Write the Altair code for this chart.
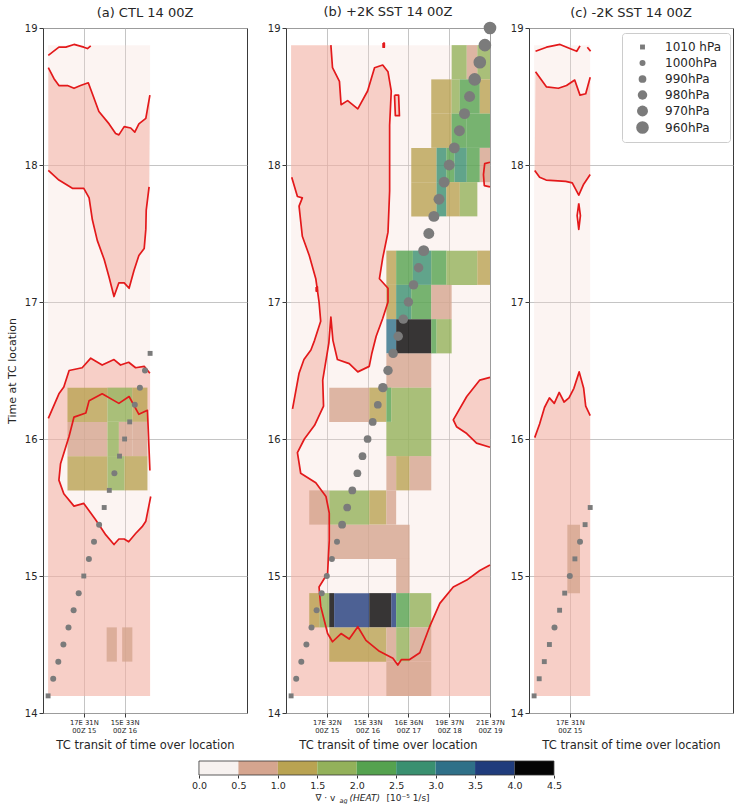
import altair as alt
import pandas as pd

FONT = "DejaVu Sans"
TEXT_COLOR = "#262626"
LIGHT_FILL = "#f6d9d3"
PINK_FILL = "#f2a293"
CONTOUR_RED = "#e3191b"
TRACK_GREY = "#7b7b7b"

# ---- binned colour scale of the ageostrophic divergence (1e-5 1/s) ----
DIV_EDGES = [0.0, 0.5, 1.0, 1.5, 2.0, 2.5, 3.0, 3.5, 4.0, 4.5]
DIV_COLORS = ["#f7f2f0", "#d5a58f", "#b9a352", "#93b15a", "#55a24f",
              "#3a9070", "#2f7088", "#203c7c", "#050505"]
DIV_SCALE = alt.Scale(type="threshold", domain=DIV_EDGES[1:-1], range=DIV_COLORS)

# ---- TC central pressure categories ----
PRESSURE_LEVELS = [1010, 1000, 990, 980, 970, 960]
PRESSURE_LABELS = ["1010 hPa", "1000hPa", "990hPa", "980hPa", "970hPa", "960hPa"]
PRESSURE_SHAPES = ["square", "circle", "circle", "circle", "circle", "circle"]
PRESSURE_SIZES = [24, 36, 60, 90, 120, 160]

Y_TICKS = [14, 15, 16, 17, 18, 19]

# ---- TC track (3-hourly) ----
TRACK_A_TIME = [14.125, 14.25, 14.375, 14.5, 14.625, 14.75, 14.875, 15.0, 15.125, 15.25, 15.375,
                15.5, 15.625, 15.75, 15.875, 16.0, 16.125, 16.25, 16.375, 16.5, 16.625]
TRACK_A_PRES = [1010, 1000, 1000, 1000, 1000, 1000, 1000, 1010, 1000, 1000, 1000,
                1010, 1010, 1000, 1010, 1010, 1010, 1000, 1000, 1000, 1010]

TRACK_B_TIME = [14.125, 14.25, 14.375, 14.5, 14.625, 14.75, 14.875, 15.0, 15.125, 15.25,
                15.375, 15.5, 15.625, 15.75, 15.875, 16.0, 16.125, 16.25, 16.375, 16.5,
                16.625, 16.75, 16.875, 17.0, 17.125, 17.25, 17.375, 17.5, 17.625, 17.75,
                17.875, 18.0, 18.125, 18.25, 18.375, 18.5, 18.625, 18.75, 18.875, 19.0]
TRACK_B_PRES = [1010, 1000, 1000, 1000, 1000, 1000, 1000, 1000, 1000, 1000,
                990, 990, 990, 990, 990, 990, 990, 990, 980, 980,
                980, 980, 980, 980, 980, 980, 970, 970, 970, 970,
                970, 970, 970, 970, 970, 970, 960, 960, 960, 960]

TRACK_C_TIME = [14.125, 14.25, 14.375, 14.5, 14.625, 14.75, 14.875, 15.0, 15.125, 15.25, 15.375, 15.5]
TRACK_C_PRES = [1010, 1010, 1010, 1010, 1000, 1010, 1010, 1000, 1010, 1000, 1010, 1010]

# ---- x tick labels: position / time of TC transit ----
XTICKS_A = [15, 16]
XLABELS_A = [("17E 31N", "00Z 15"), ("15E 33N", "00Z 16")]
XTICKS_B = [15, 16, 17, 18, 19]
XLABELS_B = [("17E 32N", "00Z 15"), ("15E 33N", "00Z 16"), ("16E 36N", "00Z 17"),
             ("19E 37N", "00Z 18"), ("21E 37N", "00Z 19")]
XTICKS_C = [15]
XLABELS_C = [("17E 31N", "00Z 15")]

# ---- data extents (x0, x1, y0, y1) ----
EXTENT_A = (14.125, 16.625, 14.125, 18.875)
EXTENT_B = (14.125, 19.0, 14.125, 18.875)
EXTENT_C = (14.125, 15.5, 14.125, 18.875)

# ---- contour lines, panel (a) ----
A_TOP = [(14.13, 18.80), (14.39, 18.86), (14.56, 18.86), (14.76, 18.88), (15.0, 18.86),
         (15.09, 18.85), (15.17, 18.87)]
A_UPPER = [(14.13, 18.71), (14.27, 18.63), (14.39, 18.58), (14.6, 18.58), (14.76, 18.56),
           (14.92, 18.58), (15.11, 18.60), (15.21, 18.52), (15.37, 18.39), (15.62, 18.30),
           (15.78, 18.23), (15.86, 18.22), (15.99, 18.28), (16.15, 18.27), (16.25, 18.24),
           (16.35, 18.30), (16.52, 18.34), (16.62, 18.51)]
A_V = [(14.13, 17.96), (14.39, 17.89), (14.72, 17.83), (15.0, 17.83), (15.13, 17.76),
       (15.21, 17.6), (15.33, 17.45), (15.5, 17.31), (15.62, 17.18), (15.74, 17.04),
       (15.86, 17.14), (15.99, 17.14), (16.11, 17.1), (16.23, 17.23), (16.35, 17.34),
       (16.48, 17.39), (16.52, 17.53), (16.53, 17.67), (16.6, 17.84)]
A_MID = [(14.13, 16.15), (14.39, 16.33), (14.51, 16.38), (14.64, 16.50), (14.96, 16.52),
         (15.17, 16.59), (15.45, 16.54), (15.74, 16.58), (15.9, 16.54), (16.1, 16.56),
         (16.27, 16.52), (16.48, 16.53), (16.62, 16.48)]
A_HOLE = [(16.62, 15.77), (16.56, 16.21), (16.35, 16.18), (16.11, 16.31), (15.86, 16.26),
          (15.45, 16.33), (15.13, 16.28), (15.05, 16.19), (14.76, 16.16), (14.64, 16.02),
          (14.43, 15.82), (14.39, 15.70), (14.51, 15.60), (14.76, 15.51), (15.0, 15.53),
          (15.29, 15.41), (15.54, 15.30), (15.74, 15.23), (15.86, 15.27), (15.99, 15.27),
          (16.1, 15.25), (16.27, 15.31), (16.43, 15.36), (16.52, 15.40), (16.64, 15.58)]

# ---- contour lines, panel (b) ----
B_MAIN = [(15.10, 18.875), (15.14, 18.71), (15.31, 18.61), (15.35, 18.44), (15.51, 18.47),
          (15.76, 18.41), (16.0, 18.54), (16.17, 18.71), (16.37, 18.73), (16.5, 18.68),
          (16.58, 18.54), (16.54, 18.29), (16.54, 17.81), (16.5, 17.51), (16.37, 17.32),
          (16.29, 17.17), (16.5, 17.1), (16.5, 17.0), (16.37, 16.88), (16.21, 16.75),
          (16.1, 16.62), (16.04, 16.53), (15.76, 16.49), (15.55, 16.55), (15.26, 16.58),
          (15.15, 16.72), (15.1, 16.89), (15.05, 16.7), (14.9, 16.43), (14.92, 16.24),
          (14.7, 16.1), (14.45, 16.0), (14.28, 15.9), (14.36, 15.75), (14.73, 15.68),
          (14.98, 15.58), (15.06, 15.46), (15.06, 15.26), (15.02, 15.02), (14.81, 14.92),
          (14.85, 14.78), (15.02, 14.58), (15.14, 14.52), (15.35, 14.58), (15.55, 14.54),
          (15.76, 14.63), (15.96, 14.53), (16.29, 14.45), (16.62, 14.4), (16.74, 14.35),
          (16.83, 14.39), (17.03, 14.39), (17.28, 14.44), (17.52, 14.63), (17.77, 14.8),
          (18.1, 14.92), (18.43, 14.97), (18.75, 15.04), (19.0, 15.08)]
B_BAY = [(14.14, 17.91), (14.28, 17.77), (14.4, 17.76), (14.32, 17.7), (14.4, 17.48),
         (14.57, 17.34), (14.73, 17.17), (14.81, 17.0), (14.85, 16.86), (14.7, 16.72),
         (14.61, 16.65), (14.44, 16.58), (14.32, 16.48), (14.16, 16.22)]
B_EAST = [(19.0, 16.45), (18.75, 16.43), (18.43, 16.31), (18.1, 16.14), (18.18, 16.09),
          (18.43, 16.04), (18.67, 15.97), (19.0, 15.94)]
B_LOOP_N = [(16.66, 18.51), (16.76, 18.51), (16.78, 18.36), (16.68, 18.36), (16.66, 18.51)]
B_LOOP_E = [(19.0, 18.02), (18.87, 18.01), (18.84, 17.93), (18.86, 17.85), (19.0, 17.84)]
B_DOT_W = [(14.74, 17.11), (14.77, 17.11), (14.77, 17.08), (14.74, 17.08), (14.74, 17.11)]
B_DOT_N = [(16.38, 18.89), (16.41, 18.89), (16.41, 18.86), (16.38, 18.86), (16.38, 18.89)]

# ---- contour lines, panel (c) ----
C_TOP_1 = [(14.16, 18.83), (14.43, 18.86), (14.76, 18.88), (15.0, 18.85), (15.17, 18.83), (15.25, 18.87)]
C_TOP_2 = [(15.43, 18.86), (15.51, 18.83)]
C_UPPER = [(14.16, 18.68), (14.43, 18.57), (14.72, 18.56), (14.92, 18.58), (15.12, 18.62),
           (15.25, 18.51), (15.39, 18.52), (15.5, 18.64)]
C_LOWER = [(14.14, 17.96), (14.26, 17.91), (14.42, 17.89), (14.9, 17.88), (15.06, 17.87),
           (15.22, 17.78), (15.34, 17.86), (15.5, 17.93)]
C_DIAMOND = [(15.22, 17.72), (15.26, 17.63), (15.22, 17.53), (15.18, 17.63), (15.22, 17.72)]
C_MID = [(14.14, 16.01), (14.26, 16.11), (14.38, 16.23), (14.5, 16.30), (14.62, 16.26),
         (14.74, 16.34), (14.86, 16.27), (14.98, 16.30), (15.1, 16.37), (15.23, 16.49),
         (15.34, 16.37), (15.39, 16.24), (15.5, 16.17)]

# ---- divergence cells (x0, x1, y0, y1, value) ----
CELLS_A = [
    (14.6, 15.58, 16.125, 16.375, 1.1), (15.58, 16.19, 16.125, 16.375, 1.9), (16.19, 16.56, 16.125, 16.375, 1.2),
    (14.6, 15.58, 15.875, 16.125, 0.7), (15.58, 15.86, 15.875, 16.125, 1.7), (15.86, 16.19, 15.875, 16.125, 0.7),
    (16.19, 16.56, 15.875, 16.125, 0.8),
    (14.6, 15.58, 15.625, 15.875, 1.3), (15.58, 16.0, 15.625, 15.875, 1.7), (16.0, 16.56, 15.625, 15.875, 1.3),
    (15.56, 15.81, 14.375, 14.625, 0.8), (15.94, 16.19, 14.375, 14.625, 0.8),
]
CELLS_B = [
    (18.06, 18.43, 18.625, 18.875, 1.7), (18.43, 18.69, 18.625, 18.875, 0.8), (18.69, 19.0, 18.625, 18.875, 1.8),
    (17.56, 18.06, 18.375, 18.625, 1.2), (18.06, 18.26, 18.375, 18.625, 1.8), (18.26, 18.75, 18.375, 18.625, 2.2),
    (18.75, 19.0, 18.375, 18.625, 1.3),
    (17.56, 18.06, 18.125, 18.375, 1.2), (18.06, 18.43, 18.125, 18.375, 2.1), (18.43, 19.0, 18.125, 18.375, 2.2),
    (17.07, 17.69, 17.875, 18.125, 1.4), (17.69, 17.93, 17.875, 18.125, 2.9), (17.93, 18.13, 17.875, 18.125, 2.4),
    (18.13, 18.43, 17.875, 18.125, 2.6), (18.43, 18.75, 17.875, 18.125, 2.2), (18.75, 19.0, 17.875, 18.125, 0.9),
    (17.07, 17.69, 17.625, 17.875, 1.1), (17.69, 17.93, 17.625, 17.875, 2.8), (17.93, 18.26, 17.625, 17.875, 1.3),
    (18.26, 18.69, 17.625, 17.875, 1.6),
    (16.46, 16.7, 17.125, 17.375, 1.3), (16.7, 17.11, 17.125, 17.375, 2.2), (17.11, 17.56, 17.125, 17.375, 2.6),
    (17.56, 17.93, 17.125, 17.375, 2.1), (17.93, 18.69, 17.125, 17.375, 1.7), (18.69, 19.0, 17.125, 17.375, 1.2),
    (16.46, 16.7, 16.875, 17.125, 1.2), (16.7, 17.07, 16.875, 17.125, 2.6), (17.07, 17.56, 16.875, 17.125, 2.2),
    (17.56, 18.06, 16.875, 17.125, 0.8),
    (16.46, 16.7, 16.625, 16.875, 3.1), (16.7, 17.56, 16.625, 16.875, 4.3), (17.56, 17.69, 16.625, 16.875, 2.3),
    (17.69, 18.06, 16.625, 16.875, 1.8),
    (16.46, 17.56, 16.375, 16.625, 0.7),
    (15.06, 16.04, 16.125, 16.375, 0.7), (16.04, 16.46, 16.125, 16.375, 1.1), (16.46, 16.58, 16.125, 16.375, 2.1),
    (16.58, 17.56, 16.125, 16.375, 1.6),
    (16.46, 17.56, 15.875, 16.125, 1.6),
    (16.46, 16.7, 15.625, 15.875, 0.8), (16.7, 17.03, 15.625, 15.875, 1.2), (17.03, 17.56, 15.625, 15.875, 0.8),
    (14.57, 15.06, 15.375, 15.625, 0.8), (15.06, 16.04, 15.375, 15.625, 1.6), (16.04, 16.46, 15.375, 15.625, 1.2),
    (16.46, 16.7, 15.375, 15.625, 0.7),
    (15.06, 17.03, 15.125, 15.375, 0.7),
    (16.7, 17.03, 14.875, 15.125, 0.7),
    (14.57, 14.82, 14.625, 14.875, 1.3), (14.82, 15.06, 14.625, 14.875, 1.8), (15.06, 15.18, 14.625, 14.875, 4.2),
    (15.18, 16.04, 14.625, 14.875, 3.8), (16.04, 16.58, 14.625, 14.875, 4.3), (16.58, 16.7, 14.625, 14.875, 3.6),
    (16.7, 17.03, 14.625, 14.875, 2.2), (17.03, 17.56, 14.625, 14.875, 1.7),
    (15.06, 16.46, 14.375, 14.625, 1.1), (16.46, 16.7, 14.375, 14.625, 0.8), (16.7, 17.03, 14.375, 14.625, 1.6),
    (17.03, 17.56, 14.375, 14.625, 0.8),
    (16.46, 17.56, 14.125, 14.375, 0.8),
]
CELLS_C = [(14.94, 15.25, 14.875, 15.375, 0.8)]


def tick_label_expr(ticks, labels):
    expr = "''"
    for t, (top, bottom) in reversed(list(zip(ticks, labels))):
        expr = f"datum.value == {t} ? ['{top}', '{bottom}'] : {expr}"
    return expr


def path_frame(paths):
    rows = []
    for k, pts in enumerate(paths):
        for i, (x, y) in enumerate(pts):
            rows.append({"path": k, "i": i, "x": x, "y": y})
    return pd.DataFrame(rows)


def track_frame(times, pressures):
    name = dict(zip(PRESSURE_LEVELS, PRESSURE_LABELS))
    return pd.DataFrame({"t": times, "p": [name[p] for p in pressures]})


def make_panel(title, extent, fills, contours, cells, times, pressures, ticks, tick_labels,
               y_title=None, legend=None):
    xs = alt.Scale(domain=[14, 19], nice=False, zero=False)
    ys = alt.Scale(domain=[14, 19], nice=False, zero=False)
    x_axis = alt.Axis(values=ticks, labelExpr=tick_label_expr(ticks, tick_labels),
                      title="TC transit of time over location", labelFontSize=6.8,
                      labelLineHeight=8.5, labelPadding=2, labelOverlap=False, labelFlush=False,
                      titlePadding=5, titleFontSize=11.5)
    y_axis = alt.Axis(values=Y_TICKS, format="d", title=y_title, titlePadding=7)

    def xy(xf, yf):
        return dict(x=alt.X(xf, scale=xs, axis=x_axis), y=alt.Y(yf, scale=ys, axis=y_axis))

    base = alt.Chart(pd.DataFrame([extent], columns=["x0", "x1", "y0", "y1"])).mark_rect(
        color=LIGHT_FILL, opacity=0.3
    ).encode(x2="x1:Q", y2="y1:Q", **xy("x0:Q", "y0:Q"))
    shade = alt.Chart(path_frame(fills)).mark_line(
        fill=PINK_FILL, fillOpacity=0.45, strokeOpacity=0
    ).encode(detail="path:N", order="i:Q", **xy("x:Q", "y:Q"))
    boxes = alt.Chart(pd.DataFrame(cells, columns=["x0", "x1", "y0", "y1", "v"])).mark_rect(
        opacity=0.8
    ).encode(
        x2="x1:Q", y2="y1:Q",
        color=alt.Color("v:Q", scale=DIV_SCALE, legend=None),
        **xy("x0:Q", "y0:Q"),
    )
    lines = alt.Chart(path_frame(contours)).mark_line(
        color=CONTOUR_RED, strokeWidth=1.7, strokeJoin="round"
    ).encode(detail="path:N", order="i:Q", **xy("x:Q", "y:Q"))
    dots = alt.Chart(track_frame(times, pressures)).mark_point(
        filled=True, color=TRACK_GREY, opacity=1
    ).encode(
        size=alt.Size("p:N", scale=alt.Scale(type="ordinal", domain=PRESSURE_LABELS, range=PRESSURE_SIZES),
                      legend=legend),
        shape=alt.Shape("p:N", scale=alt.Scale(domain=PRESSURE_LABELS, range=PRESSURE_SHAPES), legend=legend),
        **xy("t:Q", "t:Q"),
    )
    return alt.layer(base, shade, boxes, lines, dots).properties(
        width=204, height=685,
        title=alt.TitleParams(title, fontSize=13, fontWeight="normal", color=TEXT_COLOR, offset=3),
    )


# pink shading polygons built from the contour lines and the data edges
FILL_A = [
    A_UPPER + A_V[::-1],
    [(14.125, 14.125), (16.625, 14.125), (16.625, 15.58)] + A_HOLE[::-1][:-1]
    + [(16.625, 16.21), (16.625, 16.48)] + A_MID[::-1] + [(14.125, 16.15)],
]
FILL_B = [
    [(14.125, 18.875)] + B_MAIN + [(19.0, 14.125), (14.125, 14.125), (14.125, 16.22)]
    + B_BAY[::-1] + [(14.125, 17.91)],
    B_EAST, B_LOOP_N, B_LOOP_E,
]
FILL_C = [
    C_UPPER + C_LOWER[::-1],
    [(14.125, 14.125), (15.5, 14.125)] + C_MID[::-1] + [(14.125, 16.0)],
]

legend_c = alt.Legend(
    title=None, orient="none", legendX=93, legendY=5, fillColor="white",
    strokeColor="#cccccc", cornerRadius=3, padding=8, symbolOffset=6, labelOffset=16,
    labelFontSize=12, labelColor=TEXT_COLOR, rowPadding=4,
    symbolFillColor=TRACK_GREY, symbolStrokeWidth=0,
)

panel_a = make_panel("(a) CTL 14 00Z", EXTENT_A, FILL_A,
                     [A_TOP, A_UPPER, A_V, A_MID, A_HOLE], CELLS_A,
                     TRACK_A_TIME, TRACK_A_PRES, XTICKS_A, XLABELS_A,
                     y_title="Time at TC location")
panel_b = make_panel("(b) +2K SST 14 00Z", EXTENT_B, FILL_B,
                     [B_MAIN, B_BAY, B_EAST, B_LOOP_N, B_LOOP_E, B_DOT_W, B_DOT_N], CELLS_B,
                     TRACK_B_TIME, TRACK_B_PRES, XTICKS_B, XLABELS_B)
panel_c = make_panel("(c) -2K SST 14 00Z", EXTENT_C, FILL_C,
                     [C_TOP_1, C_TOP_2, C_UPPER, C_LOWER, C_DIAMOND, C_MID], CELLS_C,
                     TRACK_C_TIME, TRACK_C_PRES, XTICKS_C, XLABELS_C, legend=legend_c)

panels = alt.hconcat(panel_a, panel_b, panel_c, spacing=39, bounds="flush").resolve_scale(
    size="independent", shape="independent"
)

# ---- colour bar ----
bins = pd.DataFrame({"lo": DIV_EDGES[:-1], "hi": DIV_EDGES[1:]})
bins["mid"] = (bins["lo"] + bins["hi"]) / 2
cb_x = alt.Scale(domain=[-1.977, 5.629], nice=False, zero=False)
cb_center = (DIV_EDGES[0] + DIV_EDGES[-1]) / 2
cb_axis = alt.Axis(values=DIV_EDGES, format=".1f", title=None, grid=False,
                   tickSize=3, labelFontSize=9.5, labelPadding=2)

cb_rects = alt.Chart(bins).mark_rect().encode(
    x=alt.X("lo:Q", scale=cb_x, axis=cb_axis),
    x2="hi:Q", y=alt.value(0), y2=alt.value(14),
    color=alt.Color("mid:Q", scale=DIV_SCALE, legend=None),
)
cb_frame = alt.Chart(pd.DataFrame({"lo": [DIV_EDGES[0]], "hi": [DIV_EDGES[-1]]})).mark_rect(
    filled=False, stroke="#333333", strokeWidth=0.8
).encode(x=alt.X("lo:Q", scale=cb_x, axis=cb_axis), x2="hi:Q", y=alt.value(0), y2=alt.value(14))


def cb_text(s, dx, dy=0, size=9, style="normal"):
    return alt.Chart(pd.DataFrame({"s": [s]})).mark_text(
        align="left", baseline="middle", dx=dx, dy=dy, fontSize=size, fontStyle=style, color=TEXT_COLOR
    ).encode(x=alt.datum(cb_center), y=alt.value(37), text="s:N")


colorbar = alt.layer(
    cb_rects, cb_frame,
    cb_text("∇ · v", -61),
    cb_text("ag", -37, dy=3, size=6.5, style="italic"),
    cb_text("(HEAT)", -27, style="italic"),
    cb_text("[10⁻⁵ 1/s]", 10),
).properties(width=600, height=14, view=alt.ViewBackground(stroke="transparent"))

chart = alt.vconcat(panels, colorbar, spacing=8).properties(
    padding={"left": 5, "top": 5, "right": 0, "bottom": 0}
).configure(font=FONT).configure_view(
    stroke="#3a3a3a", strokeWidth=1
).configure_axis(
    labelFontSize=10, labelColor=TEXT_COLOR, tickColor="#3a3a3a", tickSize=4, domain=False,
    gridColor="#b5b5b5", gridWidth=0.8, titleFontWeight="normal", titleFontSize=11, titleColor=TEXT_COLOR,
)

chart.save("out.html", embed_options={"renderer": "svg", "actions": False})
